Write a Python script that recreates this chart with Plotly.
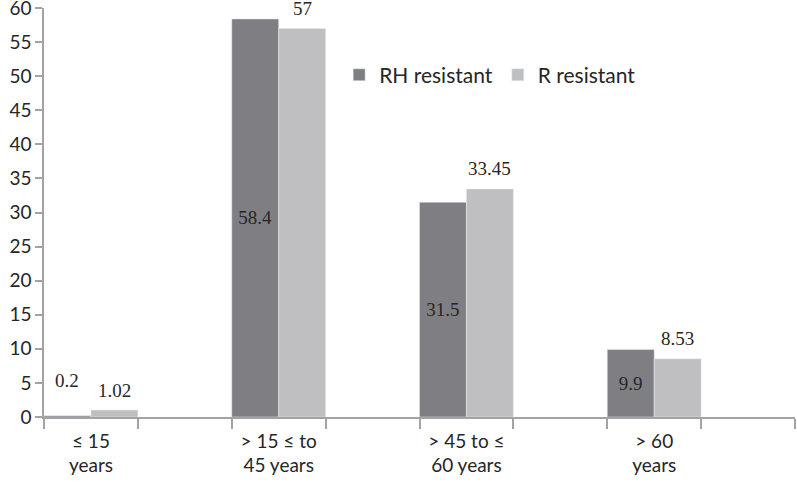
import plotly.graph_objects as go

categories = ["≤ 15<br>years", "> 15 ≤ to<br>45 years", "> 45 to ≤<br>60 years", "> 60<br>years"]
rh_resistant = [0.2, 58.4, 31.5, 9.9]
r_resistant = [1.02, 57, 33.45, 8.53]
rh_text = ["0.2", "58.4", "31.5", "9.9"]
r_text = ["1.02", "57", "33.45", "8.53"]
y_ticks = list(range(0, 61, 5))

DARK = "#7f7f83"
LIGHT = "#bfbfc1"
AXIS = "#a3a3a3"
SERIF = "Liberation Serif, Times New Roman, serif"
SANS = "Lato, Open Sans, sans-serif"

xs = list(range(len(categories)))

fig = go.Figure()
fig.add_trace(go.Bar(
    x=xs, y=rh_resistant, name="RH resistant", marker_color=DARK,
    text=[t if v > 5 else "" for t, v in zip(rh_text, rh_resistant)],
    textposition="inside", insidetextanchor="middle",
    textfont=dict(family=SERIF, size=19, color="#262626"),
))
fig.add_trace(go.Bar(
    x=xs, y=r_resistant, name="R resistant", marker_color=LIGHT,
))

# labels placed above bars, as in the source chart
for i, (v, t) in enumerate(zip(r_resistant, r_text)):
    fig.add_annotation(x=i, y=v, text=t, showarrow=False, xshift=23.5, yshift=20,
                       yanchor="middle", font=dict(family=SERIF, size=19, color="#262626"))
for i, (v, t) in enumerate(zip(rh_resistant, rh_text)):
    if v <= 5:
        fig.add_annotation(x=i, y=v, text=t, showarrow=False, xshift=-23.5, yshift=35,
                           yanchor="middle", font=dict(family=SERIF, size=19, color="#262626"))

fig.update_layout(
    width=797, height=486,
    margin=dict(l=44, r=2, t=8, b=69, autoexpand=False),
    paper_bgcolor="white", plot_bgcolor="white",
    barmode="group", bargap=0.5, bargroupgap=0,
    showlegend=True,
    legend=dict(orientation="h", x=0.393, y=0.836, xanchor="left", yanchor="middle",
                font=dict(family=SANS, size=21, color="#262626"),
                bgcolor="rgba(0,0,0,0)", itemwidth=30, traceorder="normal"),
    font=dict(family=SANS, color="#262626"),
)

fig.update_xaxes(
    range=[-0.25, 3.75], tickvals=xs, ticktext=categories, ticks="",
    tickfont=dict(family=SANS, size=19, color="#262626"),
    showline=True, linecolor=AXIS, linewidth=1.5, showgrid=False, zeroline=False,
    ticklabelstandoff=6, automargin=False,
    minor=dict(ticks="outside", tick0=-0.25, dtick=0.5, ticklen=10, tickcolor=AXIS,
               tickwidth=1.5, showgrid=False),
)
fig.update_yaxes(
    range=[0, 60], tickmode="array", tickvals=y_ticks,
    ticks="outside", ticklen=7, tickcolor=AXIS, tickwidth=1.5,
    tickfont=dict(family=SANS, size=19, color="#262626"),
    showline=True, linecolor=AXIS, linewidth=1.5, showgrid=False, zeroline=False,
    automargin=False, ticklabeloverflow="allow",
)

# the page's default body margin would shift the figure by 8px
fig.write_html("out.html", config={"displayModeBar": False},
               post_script="document.body.style.margin='0';")
